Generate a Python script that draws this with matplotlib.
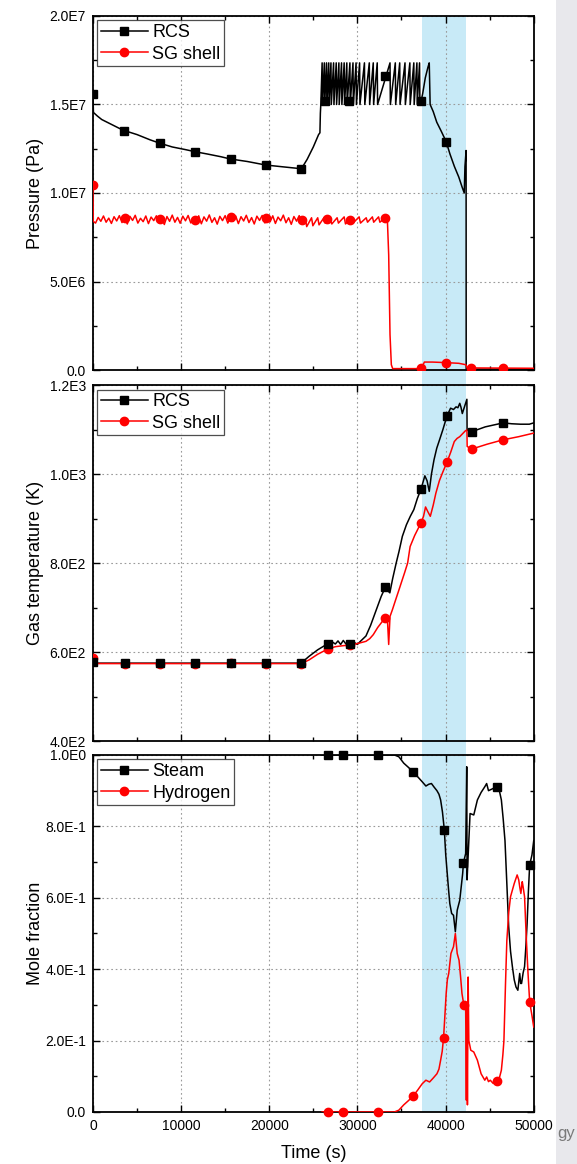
import numpy as np
import matplotlib
matplotlib.use("Agg")
import matplotlib.pyplot as plt
from matplotlib.ticker import MultipleLocator, FuncFormatter
from matplotlib.lines import Line2D
from matplotlib.patches import Rectangle
from matplotlib.transforms import blended_transform_factory

plt.rcParams['font.family'] = ['Liberation Sans', 'DejaVu Sans']

# ---------------- data ----------------
band = (37350, 42300)

# Pressure (MPa)
rcs_p = [(0, 15.6), (60, 14.55), (500, 14.35), (1000, 14.15), (2000, 13.9), (3000, 13.65),
         (3600, 13.52), (5000, 13.3), (6500, 13.0), (7600, 12.81), (9000, 12.6), (10500, 12.45),
         (11600, 12.33), (13000, 12.2), (14500, 12.05), (15600, 11.92), (17500, 11.78),
         (19600, 11.58), (21500, 11.48), (23650, 11.37), (24300, 11.9), (25000, 12.6),
         (25600, 13.3), (25750, 13.4), (25800, 14.5), (25850, 15.0),
         (26000, 17.35), (26040, 15.0), (26250, 17.35), (26290, 15.0), (26500, 17.35), (26540, 15.0),
         (26750, 17.35), (26790, 15.0), (27000, 17.35), (27040, 15.0), (27300, 17.35), (27340, 15.0),
         (27600, 17.35), (27640, 15.0), (27900, 17.35), (27940, 15.0), (28200, 17.35), (28240, 15.0),
         (28500, 17.35), (28540, 15.0), (28800, 17.35), (28840, 15.0), (29150, 17.35), (29190, 15.0),
         (29500, 17.35), (29540, 15.0), (29850, 17.35), (29890, 15.0), (30250, 17.35), (30290, 15.0),
         (30800, 17.35), (30840, 15.0), (31350, 17.35), (31390, 15.0), (31800, 17.35), (31840, 15.0),
         (32250, 17.35), (32290, 15.0), (33700, 17.35), (33740, 15.0), (34300, 17.35), (34340, 15.0),
         (34800, 17.35), (34840, 15.0), (35400, 17.35), (35440, 15.0), (35950, 17.35), (35990, 15.0),
         (36400, 17.35), (36440, 15.0), (36750, 17.35), (36790, 15.0), (37050, 17.35), (37090, 15.0),
         (37230, 15.2), (37400, 15.6), (37700, 16.5), (38000, 17.1), (38150, 17.35), (38250, 15.0),
         (38600, 14.6), (39000, 14.0), (39500, 13.5), (40070, 12.9), (40500, 12.2), (41000, 11.5),
         (41500, 10.9), (41900, 10.3), (42120, 10.0), (42200, 11.5), (42330, 12.4), (42340, 0.05),
         (50000, 0.05)]
rcs_p_marks = [(0, 15.6), (3560, 13.52), (7600, 12.81), (11560, 12.33), (15630, 11.92),
               (19620, 11.58), (23650, 11.37), (26380, 15.2), (29090, 15.2), (33150, 16.6),
               (37230, 15.2), (40070, 12.9)]

sg_noise_t = [300, 600, 900, 1200, 1500, 1800, 2100, 2400, 2700, 3000,
              3300, 3600, 3900, 4200, 4500, 4800, 5100, 5400, 5700, 6000,
              6300, 6600, 6900, 7200, 7500, 7800, 8100, 8400, 8700, 9000,
              9300, 9600, 9900, 10200, 10500, 10800, 11100, 11400, 11700, 12000,
              12300, 12600, 12900, 13200, 13500, 13800, 14100, 14400, 14700, 15000,
              15300, 15600, 15900, 16200, 16500, 16800, 17100, 17400, 17700, 18000,
              18300, 18600, 18900, 19200, 19500, 19800, 20100, 20400, 20700, 21000,
              21300, 21600, 21900, 22200, 22500, 22800, 23100, 23400, 23700]
sg_noise_v = [8.30, 8.62, 8.40, 8.70, 8.35, 8.58, 8.28, 8.66, 8.42, 8.72,
              8.33, 8.60, 8.25, 8.68, 8.45, 8.74, 8.30, 8.57, 8.38, 8.70,
              8.27, 8.64, 8.44, 8.71, 8.32, 8.59, 8.22, 8.67, 8.40, 8.75,
              8.35, 8.62, 8.29, 8.69, 8.43, 8.73, 8.31, 8.58, 8.36, 8.71,
              8.26, 8.65, 8.41, 8.76, 8.34, 8.60, 8.24, 8.68, 8.44, 8.72,
              8.30, 8.63, 8.39, 8.70, 8.27, 8.66, 8.42, 8.74, 8.33, 8.61,
              8.25, 8.69, 8.45, 8.73, 8.31, 8.58, 8.37, 8.71, 8.28, 8.64,
              8.43, 8.75, 8.32, 8.60, 8.23, 8.67, 8.41, 8.72, 8.35]
sg_p_head = [(0, 10.5), (40, 8.4)]
sg_p_tail = [(24100, 8.55), (24250, 8.1), (24800, 8.6), (24950, 8.15), (25500, 8.6), (25650, 8.2),
             (26200, 8.6), (26350, 8.3), (26900, 8.6), (27100, 8.25), (27700, 8.6), (27850, 8.3),
             (28500, 8.65), (28650, 8.25), (29300, 8.55), (29500, 8.3), (30200, 8.65), (30350, 8.3),
             (31000, 8.6), (31150, 8.35), (31700, 8.65), (31850, 8.35), (32400, 8.65), (32550, 8.35),
             (33300, 8.65), (33400, 8.5), (33550, 6.5), (33700, 2.0), (33850, 0.3), (34000, 0.08),
             (37000, 0.08), (37300, 0.15), (37600, 0.45), (38500, 0.45), (40000, 0.42),
             (41500, 0.38), (42300, 0.3), (42450, 0.12), (50000, 0.1)]
sg_p_marks = [(0, 10.45), (3630, 8.57), (7600, 8.55), (11560, 8.5), (15650, 8.63), (19620, 8.6),
              (23680, 8.5), (26600, 8.55), (29180, 8.45), (33150, 8.6), (37230, 0.1),
              (40070, 0.42), (42860, 0.12), (46490, 0.14)]

# Gas temperature (K)
rcs_T = [(0, 578), (200, 575), (23620, 575), (24500, 590), (25500, 605), (26670, 619), (27200, 622),
         (27500, 618), (27800, 625), (28100, 617), (28400, 626), (28700, 618), (29170, 619),
         (29600, 622), (30000, 617), (30340, 624), (30970, 636), (31500, 660), (32220, 699),
         (32700, 725), (33180, 746), (33450, 738), (33680, 733), (34000, 765), (34400, 800),
         (34720, 826), (35100, 860), (35560, 886), (36000, 905), (36400, 920), (36800, 945),
         (37230, 967), (37650, 996), (37900, 985), (38150, 961), (38400, 1000), (38690, 1032),
         (39000, 1058), (39320, 1077), (39700, 1100), (40150, 1130), (40570, 1148), (40900, 1145),
         (41190, 1151), (41400, 1149), (41610, 1159), (41750, 1150), (41900, 1136), (42420, 1168),
         (42440, 1099), (42950, 1095), (44500, 1106), (46540, 1115), (47500, 1113), (48500, 1112),
         (49500, 1112), (50000, 1115)]
rcs_T_marks = [(0, 578), (3630, 575), (7600, 575), (11560, 575), (15650, 576), (19620, 576),
               (23620, 575), (26670, 619), (29170, 619), (33180, 746), (37230, 967), (40150, 1130),
               (42950, 1095), (46540, 1115)]
sg_T = [(0, 587), (60, 574), (23620, 574), (24500, 582), (25500, 595), (26670, 607), (27500, 612),
        (28300, 614), (29170, 616), (30000, 619), (30970, 624), (31400, 630), (31800, 639),
        (32300, 655), (32800, 668), (33180, 677), (33390, 680), (33550, 617), (33700, 680),
        (33970, 695), (34300, 715), (34720, 740), (35000, 757), (35350, 778), (35700, 800),
        (35980, 837), (36500, 862), (37230, 891), (37500, 905), (37730, 926), (38000, 915),
        (38270, 905), (38600, 930), (38900, 957), (39300, 985), (39700, 1005), (40150, 1026),
        (40600, 1050), (40990, 1073), (41300, 1080), (41610, 1084), (41900, 1090), (42240, 1097),
        (42420, 1099), (42450, 1062), (42950, 1056), (44700, 1067), (46540, 1077), (48300, 1084),
        (50000, 1092)]
sg_T_marks = [(0, 587), (3630, 574), (7600, 574), (11560, 574), (15650, 575), (19620, 574),
              (23620, 574), (26670, 607), (29170, 616), (33180, 677), (37230, 891), (40150, 1026),
              (42950, 1056), (46540, 1077)]

# Mole fraction
steam = [(26000, 1.0), (34200, 1.0), (34700, 0.995), (35260, 0.977), (35800, 0.965), (36300, 0.953),
         (36800, 0.94), (37350, 0.925), (37770, 0.913), (38100, 0.918), (38400, 0.92), (38700, 0.91),
         (39020, 0.90), (39250, 0.89), (39440, 0.874), (39650, 0.84), (39860, 0.79), (40020, 0.72),
         (40190, 0.668), (40350, 0.62), (40480, 0.584), (40690, 0.556), (40900, 0.551),
         (41110, 0.505), (41320, 0.565), (41610, 0.593), (41940, 0.668), (42030, 0.698),
         (42280, 0.724), (42400, 0.967), (42440, 0.65), (42530, 0.70), (42780, 0.836),
         (43200, 0.832), (43610, 0.874), (44030, 0.895), (44450, 0.911), (44660, 0.92),
         (44870, 0.90), (45300, 0.905), (45790, 0.911), (46100, 0.90), (46330, 0.874),
         (46540, 0.82), (46740, 0.76), (46950, 0.64), (47160, 0.519), (47370, 0.45),
         (47580, 0.407), (47790, 0.37), (47990, 0.35), (48200, 0.341), (48410, 0.388),
         (48520, 0.36), (48620, 0.36), (48800, 0.39), (48960, 0.407), (49100, 0.46),
         (49250, 0.528), (49400, 0.62), (49540, 0.692), (49800, 0.72), (50000, 0.76)]
steam_marks = [(26630, 1.0), (28380, 1.0), (32340, 1.0), (36300, 0.953), (39860, 0.79),
               (42030, 0.698), (45790, 0.911), (49540, 0.692)]
hydrogen = [(26000, 0.0), (34200, 0.0), (34700, 0.005), (35260, 0.02), (35800, 0.032), (36300, 0.044),
            (36800, 0.06), (37350, 0.079), (37770, 0.089), (38190, 0.084), (38600, 0.095),
            (39020, 0.107), (39250, 0.12), (39440, 0.145), (39620, 0.17), (39770, 0.207),
            (39900, 0.26), (40070, 0.332), (40200, 0.37), (40360, 0.388), (40610, 0.444),
            (40900, 0.463), (41110, 0.50), (41320, 0.444), (41530, 0.425), (41700, 0.38),
            (41860, 0.332), (42070, 0.30), (42280, 0.294), (42360, 0.033), (42420, 0.30),
            (42480, 0.02), (42560, 0.378), (42640, 0.20), (42860, 0.173), (43200, 0.168),
            (43610, 0.145), (44030, 0.107), (44450, 0.089), (44660, 0.098), (44870, 0.085),
            (45070, 0.089), (45400, 0.08), (45790, 0.087), (46100, 0.095), (46330, 0.117),
            (46500, 0.16), (46620, 0.20), (46800, 0.36), (46950, 0.48), (47170, 0.56),
            (47370, 0.603), (47790, 0.64), (48120, 0.664), (48300, 0.65), (48410, 0.631),
            (48540, 0.612), (48700, 0.645), (48800, 0.63), (48960, 0.603), (49170, 0.48),
            (49350, 0.39), (49540, 0.308), (49800, 0.27), (50000, 0.238)]
hydrogen_marks = [(26630, 0.0), (28380, 0.0), (32340, 0.0), (36300, 0.044), (39770, 0.207),
                  (42070, 0.30), (45790, 0.087), (49540, 0.308)]


def xy(pairs, scale=1.0):
    t, v = zip(*pairs)
    return np.array(t, float), np.array(v, float) * scale


def sci_fmt(v, pos):
    if abs(v) < 1e-12:
        return "0.0"
    e = int(np.floor(np.log10(abs(v)) + 1e-9))
    m = round(v / 10 ** e, 1)
    return f"{m:.1f}E{e}"


BLACK = 'black'
RED = '#ff0000'
fig = plt.figure(figsize=(5.77, 11.64), dpi=100, facecolor='white')

# background strip on the right
fig.add_artist(Rectangle((0.964, 0), 0.036, 1, transform=fig.transFigure,
                         color='#e8e8ec', zorder=-10, lw=0))
fig.text(0.966, 0.026, "gy", fontsize=12, color='#7a7a7a', ha='left', va='center')

L, W = 0.161, 0.764
pos = [(L, 0.6821, W, 0.3042), (L, 0.3634, W, 0.3058), (L, 0.0447, W, 0.3067)]
axes = []
for i, p in enumerate(pos):
    ax = fig.add_axes(p, sharex=axes[0] if axes else None)
    ax.set_facecolor('none')
    axes.append(ax)

ax1, ax2, ax3 = axes

lw = 1.1
ms = 6

# Panel 1
t, v = xy(rcs_p, 1e6)
ax1.plot(t, v, color=BLACK, lw=lw, zorder=3)
t1, v1 = xy(sg_p_head, 1e6)
t2, v2 = np.array(sg_noise_t, float), np.array(sg_noise_v) * 1e6
t3, v3 = xy(sg_p_tail, 1e6)
ax1.plot(np.concatenate([t1, t2, t3]), np.concatenate([v1, v2, v3]), color=RED, lw=lw, zorder=4)
t, v = xy(rcs_p_marks, 1e6)
ax1.plot(t, v, ls='none', marker='s', ms=ms, color=BLACK, zorder=5)
t, v = xy(sg_p_marks, 1e6)
ax1.plot(t, v, ls='none', marker='o', ms=ms, color=RED, zorder=6)
ax1.set_ylim(0, 2e7)
ax1.yaxis.set_major_locator(MultipleLocator(5e6))
ax1.yaxis.set_minor_locator(MultipleLocator(2.5e6))
ax1.set_ylabel("Pressure (Pa)", fontsize=13)

# Panel 2
t, v = xy(rcs_T)
ax2.plot(t, v, color=BLACK, lw=lw, zorder=3)
t, v = xy(sg_T)
ax2.plot(t, v, color=RED, lw=lw, zorder=4)
t, v = xy(sg_T_marks)
ax2.plot(t, v, ls='none', marker='o', ms=ms, color=RED, zorder=5)
t, v = xy(rcs_T_marks)
ax2.plot(t, v, ls='none', marker='s', ms=ms, color=BLACK, zorder=6)
ax2.set_ylim(400, 1200)
ax2.yaxis.set_major_locator(MultipleLocator(200))
ax2.yaxis.set_minor_locator(MultipleLocator(100))
ax2.set_ylabel("Gas temperature (K)", fontsize=13)

# Panel 3
t, v = xy(steam)
ax3.plot(t, v, color=BLACK, lw=lw, zorder=3, clip_on=True)
t, v = xy(hydrogen)
ax3.plot(t, v, color=RED, lw=lw, zorder=4)
t, v = xy(steam_marks)
ax3.plot(t, v, ls='none', marker='s', ms=ms, color=BLACK, zorder=5, clip_on=False)
t, v = xy(hydrogen_marks)
ax3.plot(t, v, ls='none', marker='o', ms=ms, color=RED, zorder=6, clip_on=False)
ax3.set_ylim(0, 1.0)
ax3.yaxis.set_major_locator(MultipleLocator(0.2))
ax3.yaxis.set_minor_locator(MultipleLocator(0.1))
ax3.set_ylabel("Mole fraction", fontsize=13)
ax3.set_xlabel("Time (s)", fontsize=13)

legend_sets = [(ax1, ["RCS", "SG shell"]), (ax2, ["RCS", "SG shell"]), (ax3, ["Steam", "Hydrogen"])]

for ax, labels in legend_sets:
    ax.set_xlim(0, 50000)
    ax.xaxis.set_major_locator(MultipleLocator(10000))
    ax.xaxis.set_minor_locator(MultipleLocator(5000))
    ax.yaxis.set_major_formatter(FuncFormatter(sci_fmt))
    ax.tick_params(which='both', direction='in', top=True, right=True, labelsize=10, pad=5,
                   width=1.0)
    ax.tick_params(which='major', length=5)
    ax.tick_params(which='minor', length=3)
    ax.grid(True, which='major', ls=(0, (1.5, 2.5)), color='#9a9a9a', lw=0.8)
    for s in ax.spines.values():
        s.set_linewidth(1.3)
    ax.yaxis.set_label_coords(-0.111, 0.5)
    handles = [Line2D([], [], color=BLACK, marker='s', ms=ms, lw=lw),
               Line2D([], [], color=RED, marker='o', ms=ms, lw=lw)]
    leg = ax.legend(handles, labels, loc='upper left', fontsize=13, frameon=True, fancybox=False,
                    borderaxespad=0.25, borderpad=0.2, labelspacing=0.25, handlelength=2.6,
                    handletextpad=0.25)
    leg.get_frame().set_edgecolor('#222222')
    leg.get_frame().set_linewidth(0.9)
    leg.set_zorder(10)

ax1.tick_params(labelbottom=False)
ax2.tick_params(labelbottom=False)
ax3.xaxis.set_label_coords(0.5, -0.092)

# shaded time window spanning all three panels
trans = blended_transform_factory(ax3.transData, fig.transFigure)
y0 = pos[2][1]
y1 = pos[0][1] + pos[0][3]
fig.add_artist(Rectangle((band[0], y0), band[1] - band[0], y1 - y0, transform=trans,
                         color='#c8eaf7', lw=0, zorder=-5))

fig.savefig("out.png", dpi=100, facecolor='white')
